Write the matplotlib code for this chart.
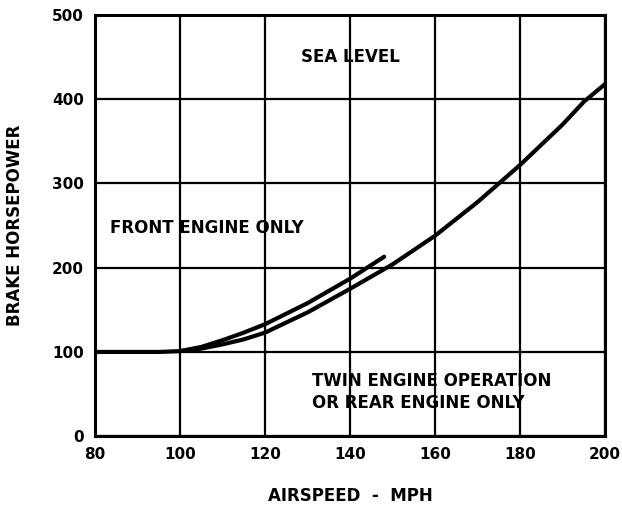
import numpy as np
import matplotlib
matplotlib.use("Agg")
import matplotlib.pyplot as plt

# values (airspeed mph, brake horsepower)
twin_mph = [80, 95, 100, 105, 110, 115, 120, 130, 140, 150, 160, 170, 175, 180, 190, 195, 200]
twin_bhp = [100, 100, 101, 104, 109, 115, 123, 147, 175, 204, 238, 278, 300, 322, 370, 397, 418]

front_mph = [100, 105, 110, 115, 120, 130, 140, 148]
front_bhp = [101, 106, 114, 123, 133, 158, 187, 213]

x_ticks = [80, 100, 120, 140, 160, 180, 200]
y_ticks = [0, 100, 200, 300, 400, 500]

plt.rcParams['font.family'] = 'DejaVu Sans'
plt.rcParams['font.weight'] = 'bold'

fig = plt.figure(figsize=(6.22, 5.12), dpi=100)
ax = fig.add_axes([0.153, 0.148, 0.820, 0.823])

ax.plot(twin_mph, twin_bhp, color='black', lw=3, solid_capstyle='round')
ax.plot(front_mph, front_bhp, color='black', lw=3, solid_capstyle='round')

ax.set_xlim(80, 200)
ax.set_ylim(0, 500)
ax.set_xticks(x_ticks)
ax.set_yticks(y_ticks)
ax.grid(True, color='black', lw=1.6)
for s in ax.spines.values():
    s.set_linewidth(2.2)
ax.tick_params(length=0, labelsize=11, pad=8)
for lab in ax.get_xticklabels() + ax.get_yticklabels():
    lab.set_fontweight('bold')

ax.set_xlabel('AIRSPEED  -  MPH', fontsize=12, fontweight='bold', labelpad=18)
ax.set_ylabel('BRAKE HORSEPOWER', fontsize=12, fontweight='bold', labelpad=20)

ax.text(140, 450, 'SEA LEVEL', ha='center', va='center', fontsize=12, fontweight='bold')
ax.text(83.5, 247, 'FRONT ENGINE ONLY', ha='left', va='center', fontsize=12, fontweight='bold')
ax.text(131, 66, 'TWIN ENGINE OPERATION', ha='left', va='center', fontsize=12, fontweight='bold')
ax.text(131, 39, 'OR REAR ENGINE ONLY', ha='left', va='center', fontsize=12, fontweight='bold')

fig.savefig('out.png', dpi=100)
